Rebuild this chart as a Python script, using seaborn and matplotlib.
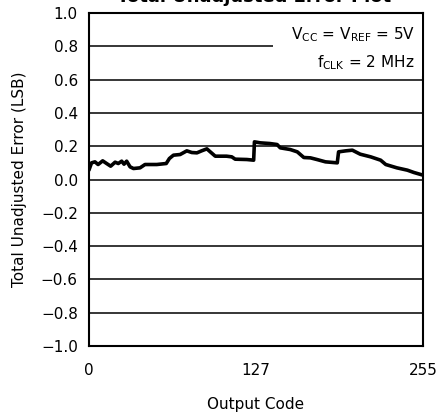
import matplotlib
matplotlib.use("Agg")
import matplotlib.pyplot as plt
import seaborn as sns
import pandas as pd
import numpy as np
from matplotlib.patches import Rectangle

# valores
codes = [0, 2, 4.6, 7, 10.5, 13.5, 16.6, 20, 22.4, 25, 26.8, 28.8, 31.4, 34, 39, 42.8,
         51.8, 59, 61.4, 64.5, 69.6, 74.7, 78.5, 82.4, 86, 90, 92.6, 96.4, 105, 109,
         111.6, 120.5, 125.7, 126.3, 130.8, 138, 143.6, 146, 153.6, 159, 164, 169, 174,
         180.5, 189.5, 190.5, 196, 201, 207, 215, 222.6, 226.5, 235, 243, 248, 255]
tue = [0.056, 0.10, 0.106, 0.09, 0.112, 0.096, 0.08, 0.104, 0.096, 0.11, 0.092, 0.11,
       0.076, 0.066, 0.07, 0.09, 0.09, 0.096, 0.126, 0.146, 0.15, 0.172, 0.162, 0.16,
       0.172, 0.184, 0.166, 0.14, 0.14, 0.136, 0.122, 0.12, 0.116, 0.226, 0.22, 0.216,
       0.21, 0.19, 0.18, 0.166, 0.132, 0.13, 0.12, 0.106, 0.10, 0.166, 0.172, 0.176,
       0.152, 0.136, 0.116, 0.09, 0.07, 0.056, 0.042, 0.026]
yticks = [-1.0, -0.8, -0.6, -0.4, -0.2, 0.0, 0.2, 0.4, 0.6, 0.8, 1.0]
xticks = [0, 127, 255]

df = pd.DataFrame({"code": codes, "tue": tue})

sns.set_theme(style="white")
plt.rcParams['font.family'] = ['DejaVu Sans']
plt.rcParams['text.color'] = 'black'
plt.rcParams['axes.labelcolor'] = 'black'

fig = plt.figure(figsize=(4.38, 4.16), dpi=100)
ax = fig.add_axes([0.203, 0.168, 0.763, 0.801])

sns.lineplot(data=df, x="code", y="tue", color="black", linewidth=2.6, ax=ax, zorder=5)

ax.set_xlim(0, 255)
ax.set_ylim(-1.0, 1.0)
ax.set_xticks(xticks)
ax.set_xticklabels([str(t) for t in xticks])
ax.set_yticks(yticks)
ax.set_yticklabels([f"{t:.1f}".replace("-", "\u2212") for t in yticks])
ax.tick_params(axis="both", length=0, labelsize=11, colors="black")
ax.tick_params(axis="x", pad=12)
ax.tick_params(axis="y", pad=8)
ax.yaxis.grid(True, color="black", linewidth=1.1)
ax.set_axisbelow(True)
for s in ax.spines.values():
    s.set_color("black")
    s.set_linewidth(1.5)

# tapa la rejilla detras del texto
ax.add_patch(Rectangle((0.551, 0.81), 0.445, 0.185, transform=ax.transAxes,
                       facecolor="white", edgecolor="none", zorder=3))
ax.text(0.975, 0.935, r"V$_{\mathrm{CC}}$ = V$_{\mathrm{REF}}$ = 5V", transform=ax.transAxes,
        ha="right", va="center", fontsize=11, zorder=6)
ax.text(0.975, 0.85, r"f$_{\mathrm{CLK}}$ = 2 MHz", transform=ax.transAxes,
        ha="right", va="center", fontsize=11, zorder=6)

ax.set_xlabel("Output Code", fontsize=11, labelpad=14)
ax.set_ylabel("Total Unadjusted Error (LSB)", fontsize=11, labelpad=10)

fig.text(0.58, 0.994, "Total Unadjusted Error Plot", ha="center", va="baseline",
         fontsize=13, fontweight="bold")

fig.savefig("out.png", dpi=100)
